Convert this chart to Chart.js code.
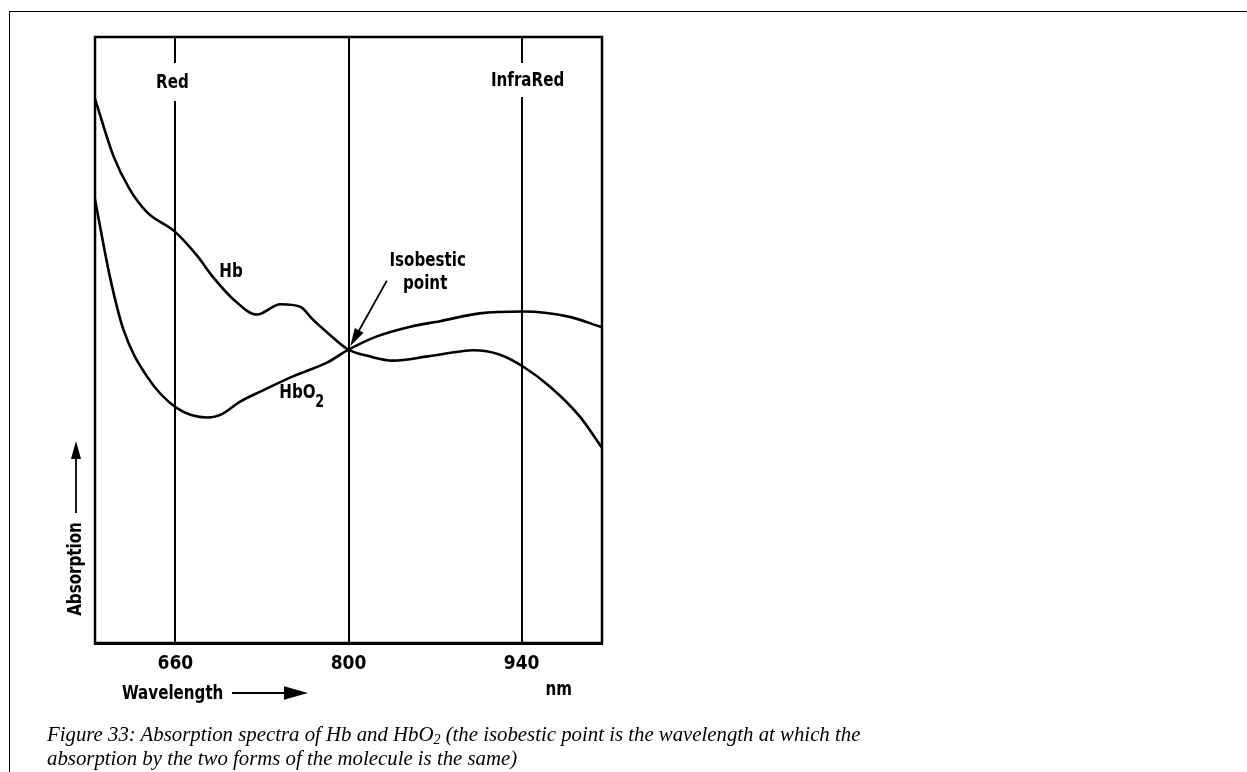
<!DOCTYPE html>
<html>
<head>
<meta charset="utf-8">
<script src="https://cdn.jsdelivr.net/npm/chart.js@4"></script>
<style>
  body { margin: 0; background: #fff; }
  .page { position: relative; width: 1247px; height: 772px; overflow: hidden; }
  .frame { position: absolute; left: 9px; top: 11px; right: 0; bottom: 0; border-top: 1.5px solid #000; border-left: 1.5px solid #000; }
  .chart-box { position: absolute; left: 0; top: 0; width: 1247px; height: 772px; }
  .caption { position: absolute; left: 47px; top: 722px; font: italic 20.8px "Liberation Serif", "Times New Roman", serif; line-height: 24px; color: #000; white-space: nowrap; }
  .caption sub { font-size: 14px; vertical-align: -3px; line-height: 0; }
</style>
</head>
<body>
<div class="page">
  <div class="frame"></div>
  <div class="chart-box"><canvas id="spectra-canvas"></canvas></div>
  <div class="caption">Figure 33: Absorption spectra of Hb and HbO<sub>2</sub> (the isobestic point is the wavelength at which the<br>absorption by the two forms of the molecule is the same)</div>
</div>
<script>
const spectraCanvas = document.querySelector("#spectra-canvas");

// wavelength ticks (nm)
const tickWavelengths = [660, 800, 940];

// Hb curve
const hbWavelengths = [595, 610, 623, 637, 660, 678, 690, 707, 726, 745, 761, 771, 783, 800, 817, 836, 864, 890, 901, 922, 942, 963, 987, 1005];
const hbAbsorption = [89.8, 80.3, 74.9, 71.1, 67.8, 63.8, 60.5, 56.7, 54.2, 55.9, 55.5, 53.4, 51.2, 48.4, 47.3, 46.6, 47.3, 48.1, 48.3, 47.6, 45.5, 42.3, 37.4, 32.2];

// HbO2 curve
const hbo2Wavelengths = [595, 607, 618, 637, 661, 686, 698, 712, 730, 755, 783, 800, 823, 850, 874, 906, 941, 977, 1005];
const hbo2Absorption = [73.2, 60.5, 51.7, 44.0, 38.8, 37.2, 37.8, 39.8, 41.6, 44.0, 46.3, 48.4, 50.6, 52.2, 53.1, 54.4, 54.7, 53.9, 52.1];

const FONT_FAMILY = '"DejaVu Sans Condensed", "Liberation Sans Narrow", sans-serif';
const LABEL_FONT = "bold 20px " + FONT_FAMILY;

function toPoints(xs, ys) {
  return xs.map((x, i) => ({ x: x, y: ys[i] }));
}

// the original lettering is narrower than any font here, so squeeze it
function narrowText(ctx, text, x, y, align) {
  ctx.save();
  ctx.translate(x, y);
  ctx.scale(0.84, 1);
  ctx.textAlign = align;
  ctx.fillText(text, 0, 0);
  ctx.restore();
}

function drawArrow(ctx, x1, y1, x2, y2, head) {
  const ang = Math.atan2(y2 - y1, x2 - x1);
  ctx.beginPath();
  ctx.moveTo(x1, y1);
  ctx.lineTo(x2 - Math.cos(ang) * head * 0.8, y2 - Math.sin(ang) * head * 0.8);
  ctx.stroke();
  ctx.beginPath();
  ctx.moveTo(x2, y2);
  ctx.lineTo(x2 - head * Math.cos(ang) + head * 0.28 * Math.sin(ang), y2 - head * Math.sin(ang) - head * 0.28 * Math.cos(ang));
  ctx.lineTo(x2 - head * Math.cos(ang) - head * 0.28 * Math.sin(ang), y2 - head * Math.sin(ang) + head * 0.28 * Math.cos(ang));
  ctx.closePath();
  ctx.fill();
}

const figureLabels = {
  id: "figureLabels",
  afterDraw(chart) {
    const ctx = chart.ctx;
    const area = chart.chartArea;
    const xs = chart.scales.x;
    const ys = chart.scales.y;
    ctx.save();
    ctx.strokeStyle = "#000";
    ctx.fillStyle = "#000";

    // box round the plot
    ctx.lineWidth = 2.5;
    ctx.strokeRect(area.left, area.top, area.right - area.left, area.bottom - area.top);

    ctx.font = LABEL_FONT;
    ctx.textBaseline = "middle";

    // band labels cutting the grid lines
    const redX = xs.getPixelForValue(tickWavelengths[0]);
    const irX = xs.getPixelForValue(tickWavelengths[2]);
    ctx.fillStyle = "#fff";
    ctx.fillRect(redX - 20, area.top + 26, 40, 38);
    ctx.fillRect(irX - 40, area.top + 26, 80, 34);
    ctx.fillStyle = "#000";
    narrowText(ctx, "Red", redX - 3, area.top + 46, "center");
    narrowText(ctx, "InfraRed", irX + 6, area.top + 44, "center");

    // curve names
    narrowText(ctx, "Hb", xs.getPixelForValue(705), ys.getPixelForValue(61.3), "center");
    narrowText(ctx, "Isobestic", xs.getPixelForValue(864), ys.getPixelForValue(63.1), "center");
    narrowText(ctx, "point", xs.getPixelForValue(862), ys.getPixelForValue(59.3), "center");
    const hx = xs.getPixelForValue(744);
    const hy = ys.getPixelForValue(41.3);
    narrowText(ctx, "HbO", hx, hy, "left");
    ctx.font = "bold 17px " + FONT_FAMILY;
    narrowText(ctx, "2", hx + 36, hy + 10, "left");

    // arrow to the isobestic point
    ctx.lineWidth = 1.8;
    drawArrow(ctx, xs.getPixelForValue(831), ys.getPixelForValue(59.8), xs.getPixelForValue(801.5), ys.getPixelForValue(49.0), 18);

    // y axis name with arrow
    ctx.font = LABEL_FONT;
    ctx.save();
    ctx.translate(area.left - 19, area.bottom - 74);
    ctx.rotate(-Math.PI / 2);
    narrowText(ctx, "Absorption", 0, 0, "center");
    ctx.restore();
    drawArrow(ctx, area.left - 19, area.bottom - 130, area.left - 19, area.bottom - 202, 18);

    // x axis name with arrow, and unit
    narrowText(ctx, "Wavelength", area.left + 27, area.bottom + 51, "left");
    drawArrow(ctx, area.left + 137, area.bottom + 50, area.left + 213, area.bottom + 50, 24);
    narrowText(ctx, "nm", xs.getPixelForValue(970), area.bottom + 47, "center");

    ctx.restore();
  },
};

new Chart(spectraCanvas, {
  type: "line",
  data: {
    datasets: [
      {
        label: "Hb",
        data: toPoints(hbWavelengths, hbAbsorption),
        borderColor: "#000",
        borderWidth: 2.6,
        pointRadius: 0,
        cubicInterpolationMode: "monotone",
        fill: false,
      },
      {
        label: "HbO2",
        data: toPoints(hbo2Wavelengths, hbo2Absorption),
        borderColor: "#000",
        borderWidth: 2.6,
        pointRadius: 0,
        cubicInterpolationMode: "monotone",
        fill: false,
      },
    ],
  },
  options: {
    responsive: true,
    maintainAspectRatio: false,
    animation: false,
    events: [],
    layout: { padding: { left: 95, top: 37, right: 645, bottom: 79 } },
    plugins: { legend: { display: false }, tooltip: { enabled: false } },
    scales: {
      x: {
        type: "linear",
        min: 595,
        max: 1005,
        afterBuildTicks: (scale) => {
          scale.ticks = tickWavelengths.map((v) => ({ value: v }));
        },
        afterFit: (scale) => {
          scale.height = 50;
        },
        grid: { color: "#000", lineWidth: 2, drawTicks: false },
        border: { display: true, color: "#000", width: 3 },
        ticks: {
          color: "#000",
          padding: 10,
          maxRotation: 0,
          font: { family: FONT_FAMILY, size: 19, weight: "bold" },
        },
      },
      y: {
        display: false,
        min: 0,
        max: 100,
      },
    },
  },
  plugins: [figureLabels],
});
</script>
</body>
</html>
